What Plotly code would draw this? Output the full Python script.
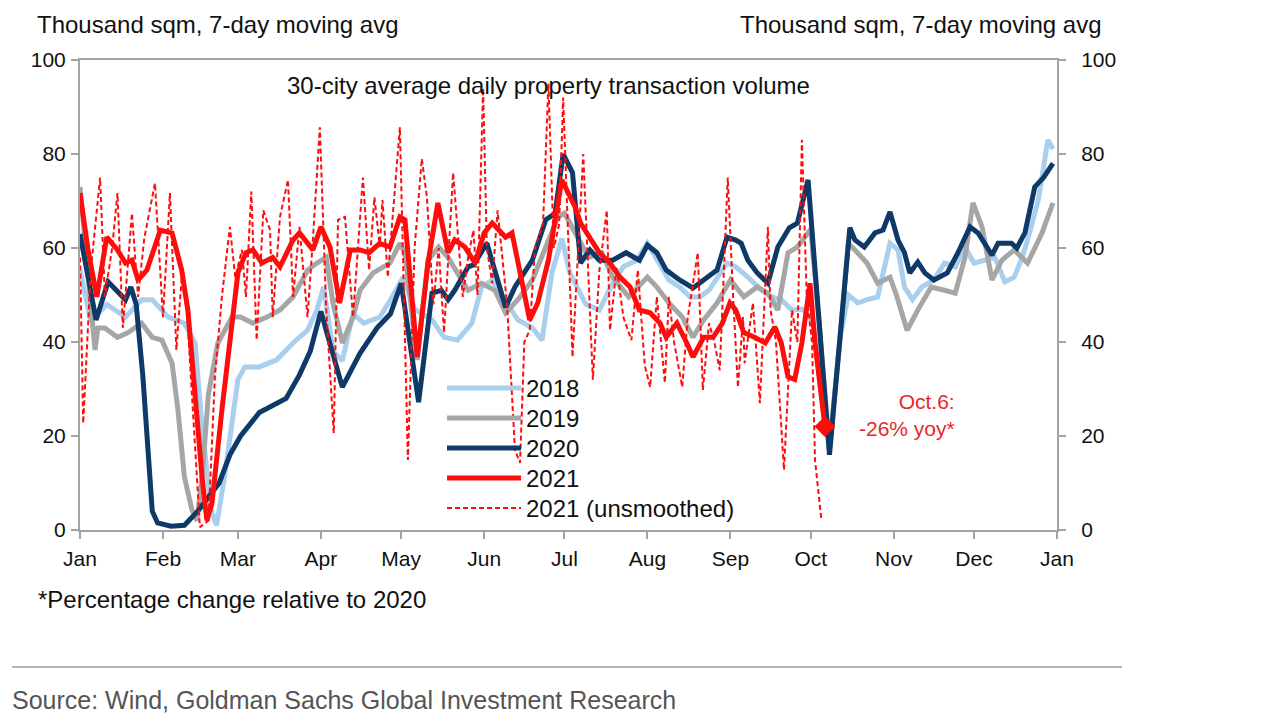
import plotly.graph_objects as go

# ---------------- data (day of year, thousand sqm) ----------------
days_2018 = [0, 4, 10, 17, 23, 27, 33, 39, 43, 45.6, 49, 51, 54, 59, 61.6, 67, 73.5, 79.6, 85, 88.5,
             91, 94.6, 98, 102, 106, 112, 116, 120.7, 125, 131.5, 136, 141, 146.4, 150, 154, 159, 163.6,
             169, 172.6, 176.3, 180, 183, 189, 194, 199, 203, 208, 212, 215.5, 220, 224, 228, 231.6, 235,
             241.7, 245, 249.5, 254.7, 258.5, 262, 266, 270, 274, 276, 278, 280, 284, 287, 290.6, 294, 298,
             302.6, 305.6, 308, 311, 314.5, 319, 323, 327, 330.6, 334, 338, 341.8, 345.5, 349, 352, 354,
             358, 361.6, 363.5]
vals_2018 = [55.3, 44.5, 48, 45.3, 49, 49, 45.3, 44, 39.8, 22, 4.3, 1, 11.3, 32, 34.7, 34.7, 36.2, 39.8,
             42.5, 46.8, 51.7, 38, 36, 46, 44, 45.3, 49, 53.8, 47, 44.7, 41, 40.4, 44, 51.7, 53.2, 49, 44.7,
             43, 40.4, 54.7, 62, 54.7, 48, 46.8, 52.5, 56, 57.4, 61, 57.4, 53.2, 51.7, 49.6, 49.6, 51, 56.8,
             56, 53.8, 51, 49.6, 49, 46.8, 47, 44, 33, 24, 18, 41, 50, 48.3, 49, 49.6, 61, 59.6, 51.7, 49,
             51.7, 53.2, 56.8, 56, 60.2, 56.8, 57.4, 58, 52.8, 53.8, 58, 61.7, 70.2, 83, 81]

days_2019 = [0, 3, 5.6, 6.7, 9.3, 14, 18, 23, 27, 30.6, 34.4, 36.6, 39, 41.8, 43.7, 45.6, 48, 51.5, 56.8,
             60, 64.6, 69.8, 74.7, 79.6, 85, 88.5, 92, 94.5, 98, 102, 104.6, 109.5, 115.8, 119.5, 121.4,
             126, 130, 134, 137.5, 141, 145, 150, 155, 159, 163.6, 169, 174, 178.6, 181, 185, 190, 195,
             199, 205, 212, 215.5, 220, 225, 229, 233, 238, 243, 245, 248, 253, 257, 260.7, 264.5, 268,
             270.8, 273, 276, 278, 280, 284, 287, 289.5, 294, 298, 302.6, 305, 309, 313, 318, 323, 327,
             330.6, 333.6, 337, 340.7, 344.4, 349, 354, 359.4, 363.5]
vals_2019 = [73, 53.8, 38.3, 43, 43, 41, 42, 44, 41, 40.4, 35.5, 25.5, 11.3, 4.3, 2, 11.3, 29, 39.8, 45.3,
             45.3, 44, 45.3, 46.8, 49.6, 55.3, 56.8, 58, 48.3, 39.8, 45.3, 51, 54.7, 56.8, 61, 59, 36.2,
             57.4, 60.2, 58, 54.7, 51, 52.5, 51, 46.2, 49, 53.2, 60.2, 66.6, 67.4, 63.2, 58, 59, 53.8, 49.6,
             53.8, 51.7, 48.3, 45.3, 41, 44.7, 48.3, 53.2, 51.7, 49.6, 51.7, 50.4, 46.8, 59, 60.2, 62.3,
             64, 45, 31, 17, 41, 61, 59.6, 56.8, 52.5, 53.8, 50, 42.5, 46.8, 51.7, 51, 50.4, 58, 69.6, 64.5,
             53.2, 57.4, 59.6, 56.8, 63.2, 69.6]

days_2020 = [0, 6, 10.5, 17, 19, 21, 23.5, 27, 29, 34, 39, 44, 52, 56, 60, 67, 72, 77, 82, 86, 90, 93, 98,
             104.6, 111, 116, 120, 126.5, 131.5, 135, 137.5, 140, 145, 147, 152, 159, 162.5, 169, 174,
             177.5, 180.5, 184, 187, 190.5, 194, 199, 204, 209, 212, 215.5, 219, 224, 229, 233, 238,
             241.7, 245, 247, 249.5, 253, 257, 260.7, 265, 268, 272, 280, 287.6, 289.5, 293, 297, 300,
             302.6, 305.6, 308, 310, 313, 315.6, 319, 324, 328, 332.5, 335.5, 340.7, 343, 348, 350, 353,
             356.7, 360, 363.5]
vals_2020 = [63, 44.7, 52.8, 49, 51.7, 48, 32.6, 4, 1.5, 0.8, 1, 4, 10, 16, 20, 25, 26.5, 28, 33, 38, 46.5,
             40.4, 30.4, 37.6, 43, 46, 52.5, 27.2, 50.4, 51, 49, 51, 56, 56.4, 61, 47.4, 51.7, 57.4, 66,
             67.4, 80, 76, 56.8, 59.6, 57.4, 57.4, 59, 57.4, 60.6, 59, 55.3, 53.2, 51.5, 53.2, 55.3, 62.3,
             61.7, 61, 57.4, 54.7, 52.5, 60.2, 64.3, 65.3, 74.5, 16, 64.3, 61.7, 60.2, 63.2, 63.8, 67.7,
             61.7, 59, 54.7, 57, 54.7, 53.2, 54.7, 59, 64.5, 63.2, 58.5, 61, 61, 60, 63.2, 73, 75, 78]

days_2021 = [0, 3, 6.3, 10, 14, 17, 19.4, 21.7, 25, 30, 34.4, 38, 40.3, 43, 45.6, 47.4, 49.3, 53, 56.8, 59,
             62, 64.6, 68, 72, 74.7, 79.6, 82, 87, 90, 93.4, 97, 101, 104.6, 108, 112, 115.8, 119.5, 121.4,
             126, 130, 133.7, 137.5, 140, 143.8, 147.6, 151, 154, 159, 161.4, 165, 168, 171, 175, 180,
             182.3, 185, 187, 190.5, 194, 198, 201.7, 205.5, 209, 213, 216.7, 219, 223, 226.7, 229, 233,
             236.5, 240, 242.8, 245, 248, 252, 256, 259.6, 262, 264.5, 267, 269.7, 272.7, 274.6, 278.3]
vals_2021 = [71.7, 59.6, 49.6, 62.3, 59.6, 56.8, 57.4, 53.2, 55.3, 63.8, 63.2, 55.3, 46.8, 28.3, 11.3, 2,
             5.7, 25.5, 45.3, 54.7, 59, 59.6, 56.8, 58, 56, 61.7, 63.2, 59.6, 64.5, 60.2, 48.3, 59.6, 59.6,
             59, 61, 60.2, 66.6, 66, 36.8, 56.8, 69.6, 59, 61.7, 60.2, 56.8, 63.2, 65.3, 62.3, 63.2, 53.2,
             44.7, 48.3, 57.4, 74.5, 71.7, 68.7, 65.3, 62.3, 59, 56.8, 53.8, 51.7, 46.8, 46.2, 44, 41, 44,
             39.8, 36.8, 41, 41, 44, 48.3, 46.8, 42, 41, 39.8, 43.2, 39.8, 32.6, 32, 39.8, 52.5, 39.8, 22]

days_raw = [0, 1.2, 4, 7.5, 9.3, 12, 14, 16, 19.4, 21.7, 24, 28, 31, 33.6, 36, 38, 40, 43, 44.8, 48,
            50.4, 53, 56, 58, 60.5, 62, 64, 66, 68.5, 71, 72, 74.7, 77.7, 79.6, 82, 85, 87, 89.6, 92, 94.8,
            96.4, 99, 102, 105.7, 108, 110, 112, 113, 115, 117, 119.5, 122.5, 125, 127.7, 129.6, 132, 134,
            136, 139.4, 143, 145, 147, 148.5, 150.6, 152, 154, 156, 159.5, 162.5, 164.4, 166, 168, 170,
            173, 175, 177, 179, 180.5, 183, 184, 188, 191.6, 194, 196.8, 198, 200.5, 203, 206, 208.4, 211,
            213, 215.5, 218.5, 220, 222, 225, 227, 230.8, 232.7, 235, 237, 239, 242, 244, 245.8, 247.7,
            248.3, 251.4, 254, 257, 258, 260, 263, 266, 268, 269.7, 271.5, 273.5, 274.6, 277]
vals_raw = [58, 22.7, 55, 75, 49.6, 60, 71.7, 43, 67.4, 49.6, 62, 73.8, 45.3, 71.7, 38.3, 53.8, 46, 18.5,
            0.6, 2, 32.6, 49.6, 64.5, 53.8, 59.6, 49.6, 72, 40.4, 68, 63.8, 45.3, 66.6, 74.5, 49.6, 64.5,
            45.3, 61.7, 85.7, 46.8, 20.6, 66, 66.6, 45.3, 75, 55.3, 70.8, 60.2, 70.2, 53.8, 68, 85.7, 14.9,
            60, 79, 70.8, 48, 60, 42, 76, 49.6, 58, 63.8, 50, 94, 60, 52.5, 68, 48.3, 17, 14.3, 40, 42.5,
            60, 65.3, 95, 60, 65, 92, 55, 36.8, 80, 32, 55, 68, 42.5, 56, 45.3, 40.4, 55.3, 35, 30.4, 49.6,
            31.3, 49.6, 39.8, 30.4, 45, 59, 29.8, 44, 40, 34, 75, 49.6, 30.4, 45.3, 35.5, 48.3, 27, 64.5,
            46.8, 40, 12.8, 46.8, 40, 83, 49.6, 39.8, 14.9, 2]

month_days = [0, 31, 59, 90, 120, 151, 181, 212, 243, 273, 304, 334, 365]
month_labels = ["Jan", "Feb", "Mar", "Apr", "May", "Jun", "Jul", "Aug", "Sep", "Oct", "Nov", "Dec", "Jan"]
y_ticks = [0, 20, 40, 60, 80, 100]
legend_names = ["2018", "2019", "2020", "2021", "2021 (unsmoothed)"]

# ---------------- style ----------------
C18, C19, C20, RED = "#a9cfee", "#a6a6a6", "#0d3a68", "#ff0d0d"
AXC = "#a3a3a3"
FONT = "Liberation Sans, Arial, Helvetica, sans-serif"
W, H = 1280, 720
L, R, T, B = 80, 1057, 60, 530  # plot area in pixels
DASH = "5px,3px"


def px(x):
    return (x - L) / (R - L)


def py(y):
    return (B - y) / (B - T)


fig = go.Figure()
series = [(days_2018, vals_2018, C18), (days_2019, vals_2019, C19), (days_2020, vals_2020, C20)]
for (d, v, c), nm in zip(series, legend_names[:3]):
    fig.add_trace(go.Scatter(x=d, y=v, mode="lines", name=nm, line=dict(color=c, width=5),
                             showlegend=False))
fig.add_trace(go.Scatter(x=days_2021, y=vals_2021, mode="lines", name=legend_names[3],
                         line=dict(color=RED, width=5), showlegend=False))
fig.add_trace(go.Scatter(x=days_raw, y=vals_raw, mode="lines", name=legend_names[4],
                         line=dict(color=RED, width=2, dash=DASH), showlegend=False))
fig.add_trace(go.Scatter(x=days_2021[-1:], y=vals_2021[-1:], mode="markers", showlegend=False,
                         marker=dict(symbol="diamond", size=16, color=RED)))
# invisible copy on the right-hand axis so that its tick labels are drawn
fig.add_trace(go.Scatter(x=days_2021, y=vals_2021, yaxis="y2", mode="lines", showlegend=False,
                         opacity=0, hoverinfo="skip", line=dict(width=0)))

axis_common = dict(showline=True, linecolor=AXC, linewidth=2, showgrid=False, zeroline=False,
                   ticks="outside", ticklen=7, tickcolor=AXC, tickwidth=1.5,
                   tickfont=dict(family=FONT, size=21, color="#111111"))

fig.update_layout(
    width=W, height=H, autosize=False,
    margin=dict(l=L, r=W - R, t=T, b=H - B),
    paper_bgcolor="white", plot_bgcolor="white",
    showlegend=False,
    xaxis=dict(range=[0, 365], tickvals=month_days, ticktext=month_labels, mirror=True,
               ticklabelstandoff=2, **axis_common),
    yaxis=dict(range=[0, 100], tickvals=y_ticks, ticklabelstandoff=1, **axis_common),
    yaxis2=dict(range=[0, 100], tickvals=y_ticks, overlaying="y", side="right",
                ticklabelstandoff=11, **axis_common),
)

ann = []


def text(x, y, s, size=20, xanchor="left", color="#111111", family=FONT, align="left"):
    ann.append(dict(x=px(x), y=py(y), xref="paper", yref="paper", text=s, showarrow=False,
                    xanchor=xanchor, yanchor="middle", align=align,
                    font=dict(family=family, size=size, color=color)))


text(35, 25, "Thousand sqm, 7-day moving avg", size=24)
text(1104, 25, "Thousand sqm, 7-day moving avg", size=24, xanchor="right")
text(548, 86, "30-city average daily property transaction volume", size=24, xanchor="center")
text(36, 599, "*Percentage change relative to 2020", size=24)
text(10, 700, "Source: Wind, Goldman Sachs Global Investment Research", size=25, color="#555555",
     family="Liberation Sans Narrow, Arial Narrow, Liberation Sans, Arial, sans-serif")
text(957, 415, "Oct.6:<br>-26% yoy*", size=21, xanchor="right", color="#e8262a", align="right")

# custom legend (long line samples like the original)
leg_y = [388, 418, 448, 478, 508]
leg_style = [(C18, 5, "solid"), (C19, 5, "solid"), (C20, 5, "solid"), (RED, 5, "solid"), (RED, 2, DASH)]
shapes = []
for yy, nm, (c, w, dsh) in zip(leg_y, legend_names, leg_style):
    shapes.append(dict(type="line", xref="paper", yref="paper", x0=px(447), x1=px(521), y0=py(yy), y1=py(yy),
                       line=dict(color=c, width=w, dash=dsh)))
    text(524, yy, nm, size=24)

shapes.append(dict(type="line", xref="paper", yref="paper", x0=px(12), x1=px(1122), y0=py(667), y1=py(667),
                   line=dict(color="#b3b3b3", width=2)))

fig.update_layout(annotations=ann, shapes=shapes)

fig.write_html("out.html", config={"displayModeBar": False},
               post_script="document.body.style.margin='0';")
